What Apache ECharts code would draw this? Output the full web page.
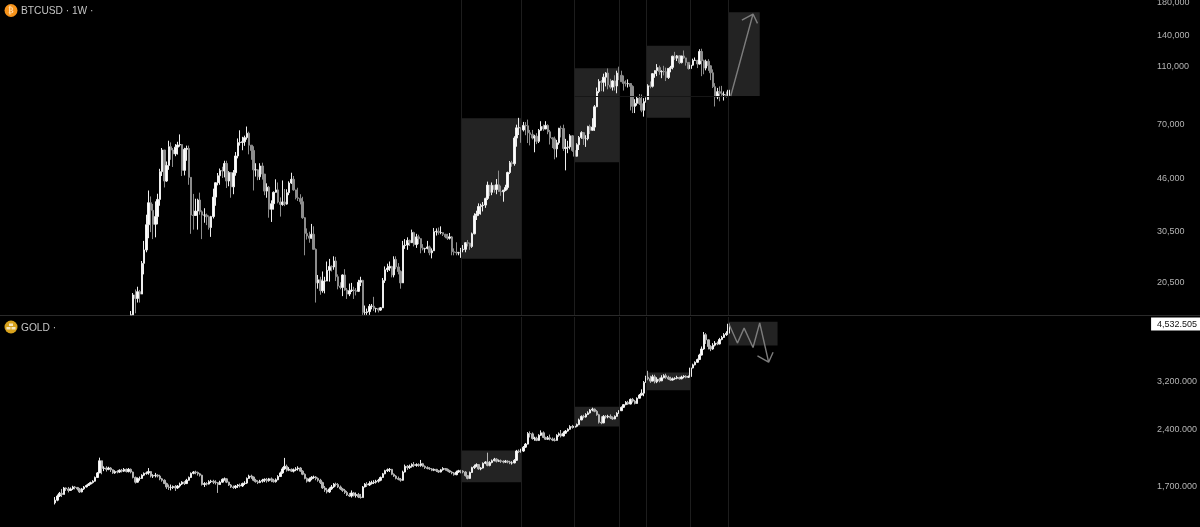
<!DOCTYPE html>
<html>
<head>
<meta charset="utf-8">
<script src="https://cdn.jsdelivr.net/npm/echarts@6/dist/echarts.min.js"></script>
<style>
  html, body { margin: 0; padding: 0; background: #000; }
  #main { width: 1200px; height: 527px; }
</style>
</head>
<body>
<div id="main"></div>
<script>
// weekly bars, each row is [close, low, high], open = previous close
// btc starts on week 34, gold on week 0. btc pane cuts off at 16,000
const btcFirstOpen = 16000
const btcBars = [
  // 2020 Nov
  [16000,16000,16480],[18670,16000,18950],[18180,16200,19480],[19150,17600,19900],[18800,17600,19420],[23860,19000,24300],[26480,21900,28400],[32200,26000,34800],
  // 2021
  [38200,29000,42000],[36000,30400,40100],[32300,28800,37850],[34300,29200,38600],[39200,32300,40950],[48600,37300,49700],[57500,47000,58400],[45200,43000,57500],[51000,44900,52600],[59000,49300,61800],
  [57500,53300,61000],[55800,50400,58400],[58800,54800,60200],[59800,55500,61300],[60000,59000,64900],[49100,47000,57500],[57800,47200,58500],[58200,52900,59500],[46500,43900,59500],[34700,30000,46600],
  [34600,31000,40900],[35800,34800,39400],[39000,31000,39400],[35600,34800,41300],[34700,28800,36000],[34700,32700,36600],[34250,32100,35100],[31500,31000,34600],[34300,29300,34500],[39900,33800,42600],
  [44600,37300,44700],[47100,43700,48100],[49000,43900,49800],[48900,46300,50500],[51800,46500,52900],[45200,42800,52900],[48300,43400,48800],[43200,39700,48000],[48200,40800,49200],[54900,47100,56600],
  [60900,53900,62900],[61000,59500,67000],[61300,57400,63700],[63300,59400,64300],[65500,62300,69000],[59700,55600,66300],[57300,53300,59500],[49300,42000,59200],[49300,46800,51900],[46700,45500,49500],[50800,45600,51900],[47700,45700,52100],
  // 2022
  [41800,40500,47600],[43100,39700,44400],[36300,34000,43500],[37900,32900,38900],[41400,36200,41700],[42200,41700,45800],[38400,38000,44700],[37700,34300,39800],[38400,37300,45400],[37800,37200,42500],
  [41300,37600,42400],[44500,40500,45100],[45800,44200,48200],[42200,41900,47000],[39700,39200,41500],[39500,38700,42900],[38500,37700,40800],[34000,33700,40000],[30100,25400,34200],[29500,28700,31300],
  [29000,28000,30500],[29900,29300,32400],[26600,26600,31800],[20500,17600,26800],[21000,19600,21800],[19300,18700,21500],[20800,19000,22400],[20800,18900,21500],[22600,20800,24200],[23300,20700,24700],
  [23200,22400,23500],[24300,22700,25200],[21500,20800,25100],[20000,19500,21900],[19800,19500,20600],[21800,18500,21900],[19400,19300,22800],[18800,18100,19700],[19300,18500,20400],[19400,19100,20500],
  [19300,18100,19900],[19200,18600,19700],[20600,19100,21000],[20900,20000,21500],[16300,16000,21000],[16300,16000,17200],[16400,16000,16800],[17100,16000,17400],[17100,16700,17400],[16800,16500,18400],[16800,16300,16900],[16600,16300,16900],
  // 2023
  [16900,16500,17000],[20900,17300,21300],[22700,20500,23300],[23000,22300,23800],[23300,22500,24200],[21800,21400,23400],[24600,21400,25200],[23200,22800,25200],[22400,21900,23900],[20500,19600,22600],
  [27400,20500,28400],[27500,26700,28800],[28500,26500,29200],[28000,27300,28700],[30300,28200,31000],[27600,27200,30500],[29300,26900,30000],[28900,27700,29800],[26900,25800,28300],[26700,26400,27700],
  [26800,25900,26900],[27100,26600,28400],[25900,25400,27400],[26300,24800,26800],[30500,26300,31400],[30600,29600,31300],[30300,29800,31500],[30300,29900,31800],[29900,29500,30300],[29300,29000,30000],
  [29000,28600,30000],[29300,28700,30200],[26100,25400,29500],[26000,25400,26800],[25900,25400,28100],[25900,25400,26100],[26500,24900,26900],[26600,26000,27500],[28000,26000,28100],[27900,27200,28600],
  [27200,26500,28000],[30000,26900,30300],[34500,29900,35200],[35000,33400,35900],[37100,34500,38000],[37400,34800,37900],[37500,35700,38400],[39500,36700,39700],[43800,39000,45000],[41400,40200,43500],[43700,40500,44700],[42300,41300,43800],
  // 2024
  [43900,40800,45900],[41700,41500,49000],[41600,40300,43600],[42100,38500,42200],[43000,41800,43900],[48300,42300,48600],[52100,47700,52800],[51700,50500,52900],[63100,50900,64000],[68300,59000,70000],
  [68400,64600,73800],[67200,60800,68500],[69600,66400,71500],[69400,64500,71400],[65700,60700,72800],[64900,59600,67200],[63100,62400,67200],[64000,56500,64700],[61500,60200,65500],[67000,60700,67700],
  [69000,66600,71900],[67700,66700,70000],[69600,67600,71900],[66200,65000,70200],[63200,60000,67200],[62700,58400,63400],[58000,53500,63800],[60800,54300,62200],[68100,59900,68300],[68000,63400,69400],
  [58200,57100,70000],[58700,49100,62700],[58900,56100,61800],[64200,57800,65000],[57300,56700,64500],[54800,52500,59800],[59900,54600,60600],[63400,57500,64100],[65800,62700,66500],[62800,59800,66000],
  [62800,58900,64500],[69000,62000,69400],[67000,65100,70000],[68700,66800,73600],[80400,66700,81500],[90600,80200,93400],[97900,89400,99600],[97200,90800,98900],[101200,90500,104000],[104500,94200,105200],[95200,92100,108300],[93700,92500,99900],[98300,91200,98900],
  // 2025
  [94500,91200,102700],[104500,89300,106400],[102700,98900,109800],[97700,97800,106400],[96400,91200,102500],[96100,94100,98800],[96300,93400,99500],[94200,78200,96500],[80700,76600,95000],[82600,76600,85300],
  [86000,81100,87400],[82400,81600,88800],[78300,77100,88500],[83700,74500,86000],[85100,83100,86500],[94600,85000,95800],[94300,92800,97900],[104000,93400,104400],[106500,100700,106700],[109000,102000,112000],
  [105600,103100,110700],[105700,100400,106800],[105600,102600,110500],[100900,98200,109000],[108300,99800,108500],[109200,105100,110500],[119100,107500,119500],[117300,115700,123200],[119400,114700,120200],[113300,112000,119800],
  [119300,112600,119400],[117500,116800,124500],[113500,110700,117600],[108200,107300,113500],[111100,107300,113400],[115300,110600,116800],[115300,114800,117900],[112100,108600,113500],[123500,111600,125700],[115000,102000,126200],
  [108600,103500,115900],[114500,106700,116000],[110500,106300,116400],[104700,98900,110900],[94000,93000,107500],[86800,80600,96600],[90400,85300,93100],[89300,83900,94200],[88200,87600,94600],[88400,84400,90600],[87800,86400,90500],[91500,86700,91800]
]

const goldFirstOpen = 1545
const goldBars = [
  [1570,1530,1600],[1610,1560,1625],[1636,1600,1650],[1625,1600,1680],[1690,1625,1700],[1680,1660,1695],[1665,1645,1700],[1680,1660,1695],[1700,1670,1712],[1695,1675,1710],
  [1680,1665,1700],[1650,1640,1690],[1680,1645,1690],[1700,1670,1710],[1715,1695,1725],[1730,1710,1740],[1745,1725,1755],[1760,1735,1770],[1800,1755,1810],[1850,1795,1860],
  [1990,1850,2028],[1900,1835,1985],[1905,1870,1925],[1890,1865,1925],[1905,1880,1920],[1885,1860,1915],[1850,1840,1890],[1865,1840,1880],[1860,1845,1880],[1880,1850,1890],
  [1870,1855,1895],[1890,1860,1905],[1865,1855,1900],[1890,1855,1905],[1860,1845,1900],[1800,1790,1865],[1750,1735,1810],[1790,1745,1800],[1790,1765,1810],[1825,1785,1835],
  [1845,1815,1855],[1850,1830,1865],[1865,1830,1905],[1815,1800,1870],[1820,1795,1835],[1825,1800,1850],[1815,1800,1835],[1785,1770,1830],[1770,1755,1795],[1735,1730,1780],
  [1700,1680,1745],[1695,1670,1725],[1695,1665,1725],[1705,1680,1715],[1690,1660,1720],[1710,1680,1720],[1730,1695,1745],[1750,1720,1760],[1735,1720,1760],[1770,1730,1785],
  [1800,1765,1810],[1845,1795,1855],[1860,1835,1870],[1855,1835,1875],[1840,1820,1865],[1825,1810,1850],[1725,1715,1830],[1735,1700,1750],[1730,1715,1750],[1755,1725,1770],
  [1760,1740,1775],[1750,1730,1775],[1745,1725,1770],[1725,1640,1750],[1750,1720,1765],[1780,1745,1790],[1785,1765,1800],[1750,1740,1790],[1720,1710,1755],[1700,1690,1730],
  [1695,1680,1715],[1710,1680,1720],[1720,1690,1730],[1710,1695,1735],[1735,1700,1745],[1740,1720,1760],[1790,1730,1800],[1815,1785,1830],[1805,1785,1830],[1770,1760,1810],
  [1755,1745,1785],[1745,1730,1770],[1760,1740,1775],[1770,1745,1785],[1780,1750,1790],[1765,1745,1795],[1785,1755,1795],[1770,1750,1800],[1755,1745,1785],[1775,1745,1790],
  [1810,1770,1825],[1850,1805,1865],[1895,1840,1915],[1925,1885,2025],[1880,1865,1945],[1890,1870,1915],[1870,1860,1900],[1885,1855,1900],[1895,1870,1915],[1905,1875,1925],
  [1870,1865,1915],[1835,1825,1880],[1790,1780,1845],[1760,1745,1800],[1785,1750,1800],[1800,1770,1815],[1805,1785,1820],[1790,1770,1815],[1770,1755,1800],[1745,1730,1785],
  [1690,1680,1755],[1670,1650,1710],[1650,1635,1690],[1680,1640,1695],[1700,1670,1720],[1730,1690,1740],[1725,1705,1745],[1700,1690,1740],[1680,1670,1715],[1665,1650,1690],
  [1645,1630,1680],[1620,1610,1660],[1610,1600,1640],[1640,1595,1665],[1615,1605,1650],[1625,1595,1645],[1600,1590,1640],[1595,1585,1630],[1700,1595,1710],[1730,1695,1740],
  [1720,1700,1750],[1735,1710,1760],[1745,1725,1765],[1750,1730,1770],[1760,1735,1775],[1770,1745,1785],[1800,1760,1810],[1840,1795,1850],[1875,1835,1885],[1885,1860,1900],
  [1890,1860,1905],[1835,1825,1895],[1815,1805,1845],[1790,1780,1825],[1780,1770,1810],[1770,1755,1795],[1860,1765,1875],[1925,1855,1945],[1910,1885,1940],[1925,1895,1945],
  [1945,1910,1960],[1935,1915,1975],[1945,1920,1960],[1935,1920,1960],[1955,1920,2000],[1925,1915,1965],[1910,1895,1935],[1900,1890,1925],[1895,1885,1915],[1880,1870,1905],
  [1890,1870,1900],[1875,1860,1895],[1860,1850,1880],[1885,1855,1895],[1900,1875,1915],[1890,1875,1905],[1875,1865,1900],[1860,1850,1885],[1850,1835,1870],[1830,1820,1860],
  [1860,1825,1875],[1875,1850,1885],[1870,1845,1885],[1860,1845,1880],[1820,1810,1870],[1790,1780,1825],[1855,1785,1865],[1910,1850,1920],[1925,1895,1945],[1945,1915,1960],
  [1895,1885,1945],[1905,1880,1915],[1960,1900,1970],[1975,1950,1985],[1935,1925,2090],[1970,1925,1985],[1990,1960,2005],[2010,1985,2025],[1985,1970,2020],[1990,1975,2005],
  [1985,1965,2005],[1975,1960,1995],[1985,1965,2000],[1975,1960,1995],[1965,1950,1990],[1965,1945,1985],[1995,1960,2010],[2110,1990,2125],[2105,2085,2130],[2110,2090,2140],
  [2160,2100,2175],[2200,2150,2215],[2345,2195,2365],[2340,2290,2375],[2275,2260,2360],[2280,2245,2300],[2250,2240,2300],[2320,2245,2335],[2355,2310,2390],[2290,2280,2375],
  [2265,2255,2300],[2285,2255,2310],[2270,2250,2330],[2255,2240,2290],[2250,2235,2285],[2320,2250,2335],[2340,2300,2360],[2310,2290,2395],[2350,2305,2375],[2380,2340,2395],
  [2405,2370,2420],[2445,2400,2465],[2435,2415,2470],[2450,2420,2480],[2475,2435,2490],[2545,2465,2565],[2600,2540,2615],[2590,2570,2625],[2630,2580,2650],[2655,2620,2680],
  [2700,2645,2715],[2715,2680,2740],[2680,2665,2725],[2625,2610,2700],[2510,2490,2640],[2500,2480,2600],[2600,2495,2620],[2590,2565,2620],[2600,2570,2625],[2580,2560,2630],
  [2560,2545,2600],[2600,2555,2615],[2650,2595,2665],[2690,2640,2700],[2745,2685,2760],[2790,2735,2800],[2830,2780,2850],[2800,2785,2855],[2880,2795,2895],[2850,2825,2905],
  [2810,2795,2870],[2900,2805,2915],[2955,2895,2975],[2990,2945,3060],[3190,2935,3215],[3290,3185,3320],[3260,3230,3420],[3215,3180,3320],[3300,3210,3340],[3200,3170,3340],
  [3250,3175,3290],[3220,3190,3280],[3280,3215,3330],[3320,3270,3350],[3290,3260,3360],[3255,3240,3320],[3235,3220,3300],[3260,3225,3285],[3270,3240,3290],[3285,3250,3320],
  [3260,3245,3300],[3295,3250,3320],[3310,3270,3330],[3290,3270,3330],[3305,3275,3325],[3480,3300,3500],[3545,3470,3570],[3600,3535,3620],[3660,3590,3680],[3760,3680,3790],
  [3900,3750,3960],[4250,3880,4320],[4120,4020,4290],[3960,3890,4130],[3900,3850,3990],[3990,3880,4040],[4040,3960,4090],[4020,3990,4080],[4130,4010,4170],[4180,4110,4220],
  [4250,4170,4290],[4290,4220,4340],[4532.505,4280,4590]
]

const btcTicks = [20500, 30500, 46000, 70000, 110000, 140000, 180000]
const goldTicks = [1700, 2400, 3200, 4532.505]
const goldLast = 4532.505

// week index of the vertical marker lines
const markerWeeks = [182, 209, 233, 253, 265, 285, 302]

// boxes: [from week, to week, top price, bottom price]
const btcBoxes = [
  [182, 209, 73560, 24750],
  [233, 253, 108400, 52290],
  [265, 285, 129200, 73900],
  [302, 316, 167400, 87460]
]
const goldBoxes = [
  [182, 209, 2116, 1748],
  [233, 253, 2753, 2445],
  [265, 285, 3385, 3043],
  [302, 324, 4593, 3983]
]

// faint level running from the second box to the last bar: [from week, to week, price]
const btcLevel = [233, 302, 87460]

// hand drawn projections: [week, price]
const btcArrow = [[303, 87460], [313, 165200], [308, 157700], [313, 165200], [315, 153700]]
const goldArrow = [[302, 4560], [306, 4041], [309, 4421], [313, 3935], [316, 4560], [320, 3602], [315, 3743], [320, 3602], [322, 3826]]

const leadWeeks = 24
const weekCount = 516
const categories = Array.from({ length: weekCount }, (_, k) => 'W' + k)

function toCandles(bars, firstOpen, firstWeek) {
  let open = firstOpen
  return bars.map((b, k) => {
    const row = [leadWeeks + firstWeek + k, open, b[0], b[1], b[2]]
    open = b[0]
    return row
  })
}

function boxAreas(boxes) {
  return boxes.map((b) => [
    { xAxis: b[0] + leadWeeks, yAxis: b[2] },
    { xAxis: b[1] + leadWeeks, yAxis: b[3] }
  ])
}

function candleSeries(name, bars, firstOpen, firstWeek, boxes, axisIndex, downColor, extraLines) {
  return {
    name,
    type: 'candlestick',
    xAxisIndex: axisIndex,
    yAxisIndex: axisIndex,
    barWidth: 2,
    encode: { x: 0, y: [1, 2, 3, 4] },
    itemStyle: {
      color: '#ffffff',
      borderColor: '#eeeeee',
      color0: downColor,
      borderColor0: downColor,
      borderWidth: 1
    },
    data: toCandles(bars, firstOpen, firstWeek),
    markArea: {
      silent: true,
      itemStyle: { color: '#232323' },
      data: boxAreas(boxes)
    },
    markLine: {
      silent: true,
      symbol: 'none',
      label: { show: false },
      lineStyle: { color: '#1d1d1d', width: 1, type: 'solid' },
      data: markerWeeks.map((w) => ({ xAxis: w + leadWeeks })).concat(extraLines)
    }
  }
}

function arrowSeries(name, points, axisIndex) {
  return {
    name,
    type: 'line',
    xAxisIndex: axisIndex,
    yAxisIndex: axisIndex,
    symbol: 'none',
    silent: true,
    z: 3,
    lineStyle: { color: '#7c7c7c', width: 1.4 },
    data: points.map((p) => [p[0] + leadWeeks, p[1]])
  }
}

function priceLabel(digits) {
  return (v) => {
    const text = Number(v).toLocaleString('en-US', { minimumFractionDigits: digits, maximumFractionDigits: digits })
    return Math.abs(v - goldLast) < 1 ? '{tag|' + text + '}' : '{p|' + text + '}'
  }
}

function priceAxis(index, min, max, ticks, digits) {
  return {
    type: 'log',
    gridIndex: index,
    position: 'right',
    min,
    max,
    axisLine: { show: false },
    axisTick: { show: false },
    splitLine: { show: false },
    axisLabel: {
      customValues: ticks,
      margin: 0,
      hideOverlap: false,
      formatter: priceLabel(digits),
      rich: {
        p: { color: '#b4b4b4', fontSize: 9, fontFamily: 'Liberation Sans', padding: [0, 0, 0, 6] },
        tag: { color: '#111111', backgroundColor: '#ffffff', fontSize: 9, fontFamily: 'Liberation Sans', padding: [2, 3, 2, 6] }
      }
    }
  }
}

function weekAxis(index) {
  return {
    type: 'category',
    gridIndex: index,
    data: categories,
    boundaryGap: true,
    axisLine: { show: false },
    axisTick: { show: false },
    axisLabel: { show: false },
    splitLine: { show: false }
  }
}

const myChart = echarts.init(document.getElementById('main'), null, { renderer: 'canvas' })

const titleStyle = { color: '#c4c4c4', fontSize: 10.2, fontWeight: 'normal', fontFamily: 'Liberation Sans' }

const option = {
  backgroundColor: '#000000',
  animation: false,
  title: [
    { text: 'BTCUSD · 1W ·', left: 21, top: 6, padding: 0, textStyle: titleStyle },
    { text: 'GOLD ·', left: 21, top: 323, padding: 0, textStyle: titleStyle }
  ],
  grid: [
    { left: 0.4, top: 0, width: 1150.68, height: 315, outerBoundsMode: 'none' },
    { left: 0.4, top: 317, width: 1150.68, height: 210, outerBoundsMode: 'none' }
  ],
  xAxis: [weekAxis(0), weekAxis(1)],
  yAxis: [
    priceAxis(0, 15980, 184200, btcTicks, 0),
    priceAxis(1, 1336, 4728, goldTicks, 3)
  ],
  series: [
    candleSeries('BTCUSD', btcBars, btcFirstOpen, 34, btcBoxes, 0, '#8c8c8c', [
      [{ xAxis: btcLevel[0] + leadWeeks, yAxis: btcLevel[2], lineStyle: { color: '#161616' } }, { xAxis: btcLevel[1] + leadWeeks, yAxis: btcLevel[2] }]
    ]),
    candleSeries('GOLD', goldBars, goldFirstOpen, 0, goldBoxes, 1, '#b4b4b4', []),
    arrowSeries('BTC projection', btcArrow, 0),
    arrowSeries('GOLD projection', goldArrow, 1)
  ],
  graphic: [
    { type: 'line', shape: { x1: 0, y1: 315.5, x2: 1200, y2: 315.5 }, style: { stroke: '#2a2a2a', lineWidth: 1 }, silent: true },
    { type: 'circle', shape: { cx: 11, cy: 10.5, r: 6.5 }, style: { fill: '#f7931a' }, silent: true },
    { type: 'text', x: 11, y: 10.5, style: { text: '₿', fill: '#ffd9a8', font: 'bold 8px "DejaVu Sans"', align: 'center', verticalAlign: 'middle' }, silent: true },
    { type: 'circle', shape: { cx: 11, cy: 327, r: 6.5 }, style: { fill: '#d8a21c' }, silent: true },
    { type: 'rect', shape: { x: 9, y: 323.5, width: 4, height: 2.5 }, style: { fill: '#f6e7c0' }, silent: true },
    { type: 'rect', shape: { x: 6.5, y: 327, width: 4, height: 2.5 }, style: { fill: '#f6e7c0' }, silent: true },
    { type: 'rect', shape: { x: 11.5, y: 327, width: 4, height: 2.5 }, style: { fill: '#f6e7c0' }, silent: true }
  ]
}

myChart.setOption(option)
</script>
</body>
</html>
